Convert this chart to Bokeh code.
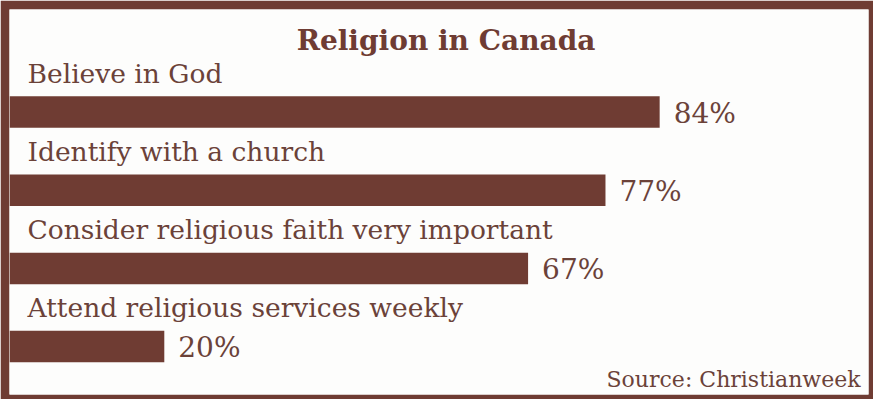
from bokeh.plotting import figure
from bokeh.models import Range1d, ColumnDataSource
from bokeh.core.properties import value
from bokeh.embed import file_html
from bokeh.resources import INLINE

# ---- data ----
title_text = "Religion in Canada"
categories = ["Believe in God", "Identify with a church",
              "Consider religious faith very important",
              "Attend religious services weekly"]
percents = [84, 77, 67, 20]
pct_labels = ["84%", "77%", "67%", "20%"]
source_text = "Source: Christianweek"

# ---- style / layout ----
BROWN = "#6f3c33"
TEXT = "#6b4239"
PAPER = "#fdfdfc"
FONT = "DejaVu Serif"

W, H = 873, 399
BL, BT, BR, BB = 9, 9, 5, 5
FW, FH = W - BL - BR, H - BT - BB
PX_PER_PCT = 7.74
ROW_PX = 78.2
ROW0_PX = 102.5  # centre of first row from frame top
TXT_SHIFT = -10  # svg baseline compensation

x_end = FW / PX_PER_PCT
y_top = -ROW0_PX / ROW_PX
y_bot = (FH - ROW0_PX) / ROW_PX

p = figure(width=W, height=H, output_backend="svg", toolbar_location=None,
           x_range=Range1d(0, x_end), y_range=Range1d(y_bot, y_top),
           min_border_left=BL, min_border_top=BT,
           min_border_right=BR, min_border_bottom=BB)
p.axis.visible = False
p.grid.visible = False
p.outline_line_color = None
p.border_fill_color = BROWN
p.background_fill_color = PAPER

rows = list(range(len(categories)))
src = ColumnDataSource(dict(y=rows, v=percents, cat=categories, lab=pct_labels))

p.hbar(y="y", left=0, right="v", height=31.5 / ROW_PX, source=src,
       fill_color=BROWN, line_color=None)

# category labels above bars
p.text(x=0, y="y", text="cat", source=src, x_offset=18, y_offset=-29 + TXT_SHIFT,
       text_font=value(FONT), text_font_size="26.5px", text_color=TEXT,
       text_baseline="alphabetic", text_align="left")

# percentage labels right of bars
p.text(x="v", y="y", text="lab", source=src, x_offset=14, y_offset=11 + TXT_SHIFT,
       text_font=value(FONT), text_font_size="28px", text_color=TEXT,
       text_baseline="alphabetic", text_align="left")

# title
p.text(x=[436.5 / PX_PER_PCT], y=[y_top], text=[title_text], y_offset=41 + TXT_SHIFT,
       text_font=value(FONT), text_font_size="28px", text_font_style="bold",
       text_color=BROWN, text_baseline="alphabetic", text_align="center")

# source
p.text(x=[x_end], y=[y_bot], text=[source_text], x_offset=-8, y_offset=-5 + TXT_SHIFT,
       text_font=value(FONT), text_font_size="22px", text_color=TEXT,
       text_baseline="alphabetic", text_align="right")

open("out.html", "w").write(file_html(p, INLINE))
